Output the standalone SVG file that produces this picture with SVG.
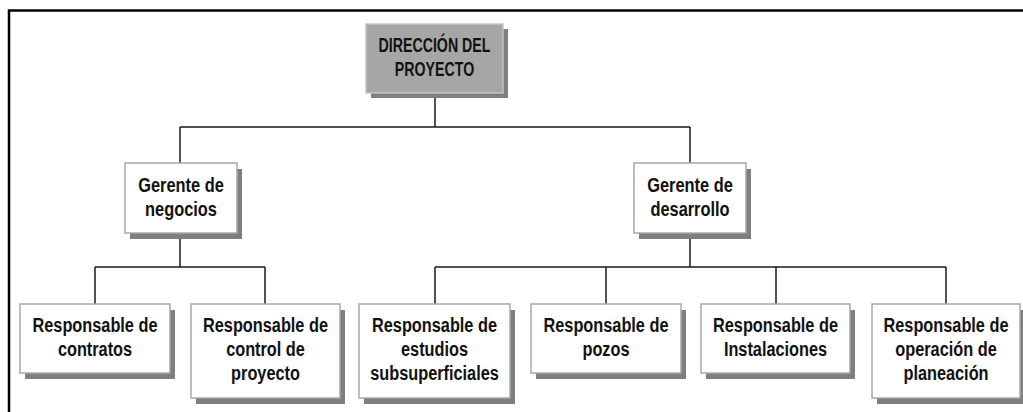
<svg xmlns="http://www.w3.org/2000/svg" width="1023" height="412" viewBox="0 0 1023 412">
<style>
.box{fill:#ffffff;stroke:#a8a8a8;stroke-width:1.5}
.top{fill:#a6a6a6;stroke:#c4c4c4;stroke-width:1.5}
.sh{fill:#7f7f7f}
.t{font-family:"Liberation Sans",Arial,sans-serif;font-weight:bold;font-size:20px;fill:#111;text-anchor:middle}
.c{stroke:#1a1a1a;stroke-width:1.5;fill:none}
.frame{stroke:#000;stroke-width:2.5;fill:none}
</style>
<rect width="1023" height="412" fill="#fff"/>
<path class="frame" d="M9 412 V10.5 H1023"/>
<g id="connectors">
<path class="c" d="M435 98 V127 M180 127 H690 M180 127 V163 M690 127 V163"/>
<path class="c" d="M180 239 V267 M95 267 H265 M95 267 V304 M265 267 V304"/>
<path class="c" d="M690 239 V267 M435 267 H946 M435 267 V304 M606 267 V304 M776 267 V304 M946 267 V304"/>
</g>
<g id="direccion">
<rect class="sh" x="371" y="29" width="137" height="69"/>
<rect class="top" x="366" y="24" width="137" height="69"/>
<text class="t" transform="translate(434.5 52) scale(0.71 1)">DIRECCIÓN DEL</text>
<text class="t" transform="translate(434.5 76) scale(0.71 1)">PROYECTO</text>
</g>
<g id="gerente-negocios">
<rect class="sh" x="130" y="169" width="112" height="70"/>
<rect class="box" x="125" y="163" width="112" height="70"/>
<text class="t" transform="translate(181 192) scale(0.82 1)">Gerente de</text>
<text class="t" transform="translate(181 216) scale(0.82 1)">negocios</text>
</g>
<g id="gerente-desarrollo">
<rect class="sh" x="639" y="169" width="112" height="70"/>
<rect class="box" x="634" y="163" width="112" height="70"/>
<text class="t" transform="translate(690 192) scale(0.82 1)">Gerente de</text>
<text class="t" transform="translate(690 216) scale(0.82 1)">desarrollo</text>
</g>
<g id="resp-contratos">
<rect class="sh" x="25" y="310" width="150" height="69"/>
<rect class="box" x="20" y="304" width="150" height="69"/>
<text class="t" transform="translate(95 332) scale(0.815 1)">Responsable de</text>
<text class="t" transform="translate(95 356) scale(0.815 1)">contratos</text>
</g>
<g id="resp-control">
<rect class="sh" x="196" y="310" width="149" height="94"/>
<rect class="box" x="191" y="304" width="149" height="94"/>
<text class="t" transform="translate(265.5 332) scale(0.815 1)">Responsable de</text>
<text class="t" transform="translate(265.5 356) scale(0.815 1)">control de</text>
<text class="t" transform="translate(265.5 380) scale(0.815 1)">proyecto</text>
</g>
<g id="resp-estudios">
<rect class="sh" x="364" y="310" width="151" height="94"/>
<rect class="box" x="359" y="304" width="151" height="94"/>
<text class="t" transform="translate(434.5 332) scale(0.815 1)">Responsable de</text>
<text class="t" transform="translate(434.5 356) scale(0.815 1)">estudios</text>
<text class="t" transform="translate(434.5 380) scale(0.815 1)">subsuperficiales</text>
</g>
<g id="resp-pozos">
<rect class="sh" x="536" y="310" width="150" height="69"/>
<rect class="box" x="531" y="304" width="150" height="69"/>
<text class="t" transform="translate(606 332) scale(0.815 1)">Responsable de</text>
<text class="t" transform="translate(606 356) scale(0.815 1)">pozos</text>
</g>
<g id="resp-instalaciones">
<rect class="sh" x="706" y="310" width="149" height="69"/>
<rect class="box" x="701" y="304" width="149" height="69"/>
<text class="t" transform="translate(775.5 332) scale(0.815 1)">Responsable de</text>
<text class="t" transform="translate(775.5 356) scale(0.815 1)">Instalaciones</text>
</g>
<g id="resp-operacion">
<rect class="sh" x="877" y="310" width="148" height="94"/>
<rect class="box" x="872" y="304" width="148" height="94"/>
<text class="t" transform="translate(946 332) scale(0.815 1)">Responsable de</text>
<text class="t" transform="translate(946 356) scale(0.815 1)">operación de</text>
<text class="t" transform="translate(946 380) scale(0.815 1)">planeación</text>
</g>
</svg>
